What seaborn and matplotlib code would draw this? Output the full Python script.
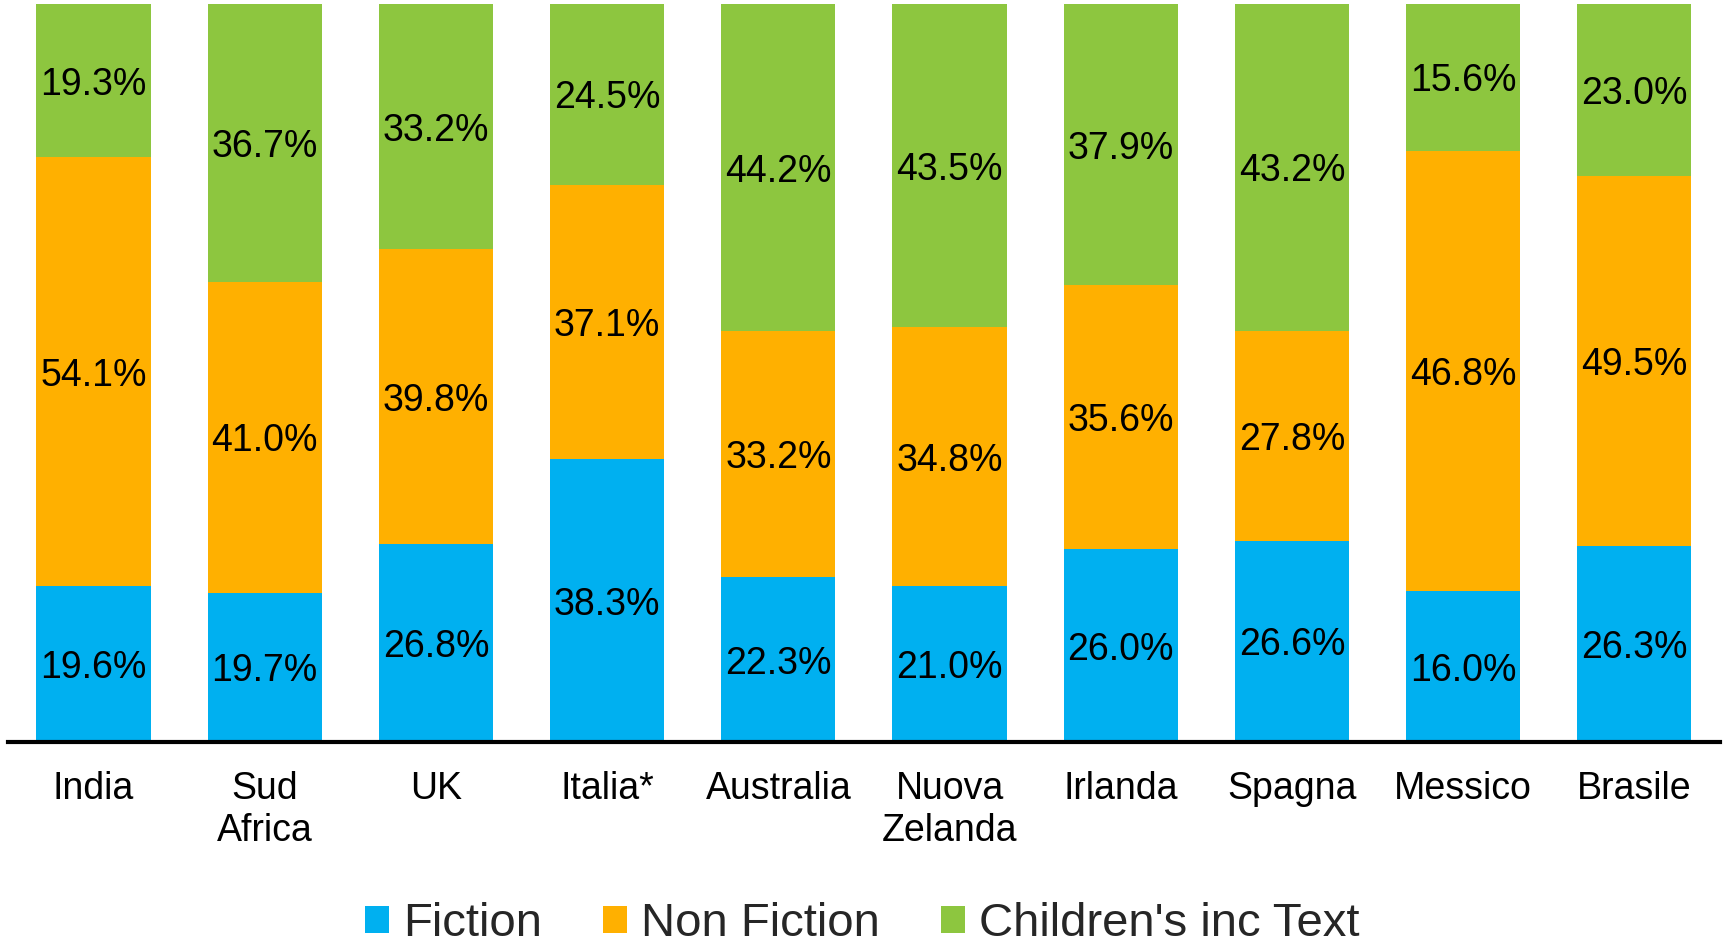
import matplotlib
matplotlib.use("Agg")
import matplotlib.pyplot as plt
import seaborn as sns
import numpy as np
import pandas as pd
from matplotlib.patches import Patch

countries = ["India", "Sud\nAfrica", "UK", "Italia*", "Australia", "Nuova\nZelanda",
             "Irlanda", "Spagna", "Messico", "Brasile"]
fiction = [19.6, 19.7, 26.8, 38.3, 22.3, 21.0, 26.0, 26.6, 16.0, 26.3]
non_fiction = [54.1, 41.0, 39.8, 37.1, 33.2, 34.8, 35.6, 27.8, 46.8, 49.5]
childrens = [19.3, 36.7, 33.2, 24.5, 44.2, 43.5, 37.9, 43.2, 15.6, 23.0]
series_names = ["Fiction", "Non Fiction", "Children's inc Text"]
colors = ["#00B0F0", "#FFB000", "#8DC63F"]

sns.set_theme(style="white")
plt.rcParams["font.family"] = ["Liberation Sans", "DejaVu Sans"]

f = np.array(fiction); n = np.array(non_fiction); c = np.array(childrens)
tot = f + n + c
fn, nn, cn = f / tot * 100, n / tot * 100, c / tot * 100

df = pd.DataFrame({"country": countries, "l1": fn, "l2": fn + nn, "l3": fn + nn + cn})

fig = plt.figure(figsize=(17.25, 9.43), dpi=100)
ax = fig.add_axes([0.0046, 0.2131, 0.9925, 0.7827])

for col, color in zip(["l3", "l2", "l1"], colors[::-1]):
    sns.barplot(data=df, x="country", y=col, color=color, width=0.667,
                saturation=1, ax=ax, linewidth=0)

bottoms = [np.zeros_like(fn), fn, fn + nn]
heights = [fn, nn, cn]
raw = [f, n, c]
for b, h, r in zip(bottoms, heights, raw):
    for i in range(len(countries)):
        ax.text(i, b[i] + h[i] / 2, f"{r[i]:.1f}%", ha="center", va="center_baseline",
                fontsize=27, color="black")

ax.set_xlim(-0.5, len(countries) - 0.5)
ax.set_ylim(0, 100)
ax.set_xlabel("")
ax.set_ylabel("")
ax.set_yticks([])
for s in ["left", "right", "top"]:
    ax.spines[s].set_visible(False)
ax.spines["bottom"].set_color("black")
ax.spines["bottom"].set_linewidth(3)
ax.tick_params(axis="x", length=0, pad=21, labelsize=27, colors="black")

handles = [Patch(facecolor=col, edgecolor="none") for col in colors]
fig.legend(handles, series_names, loc="center", bbox_to_anchor=(0.5, 0.02),
           ncol=3, frameon=False, fontsize=34, handlelength=0.5, handleheight=0.5,
           handletextpad=0.3, columnspacing=1.3, borderpad=0)

fig.savefig("out.png", dpi=100)
